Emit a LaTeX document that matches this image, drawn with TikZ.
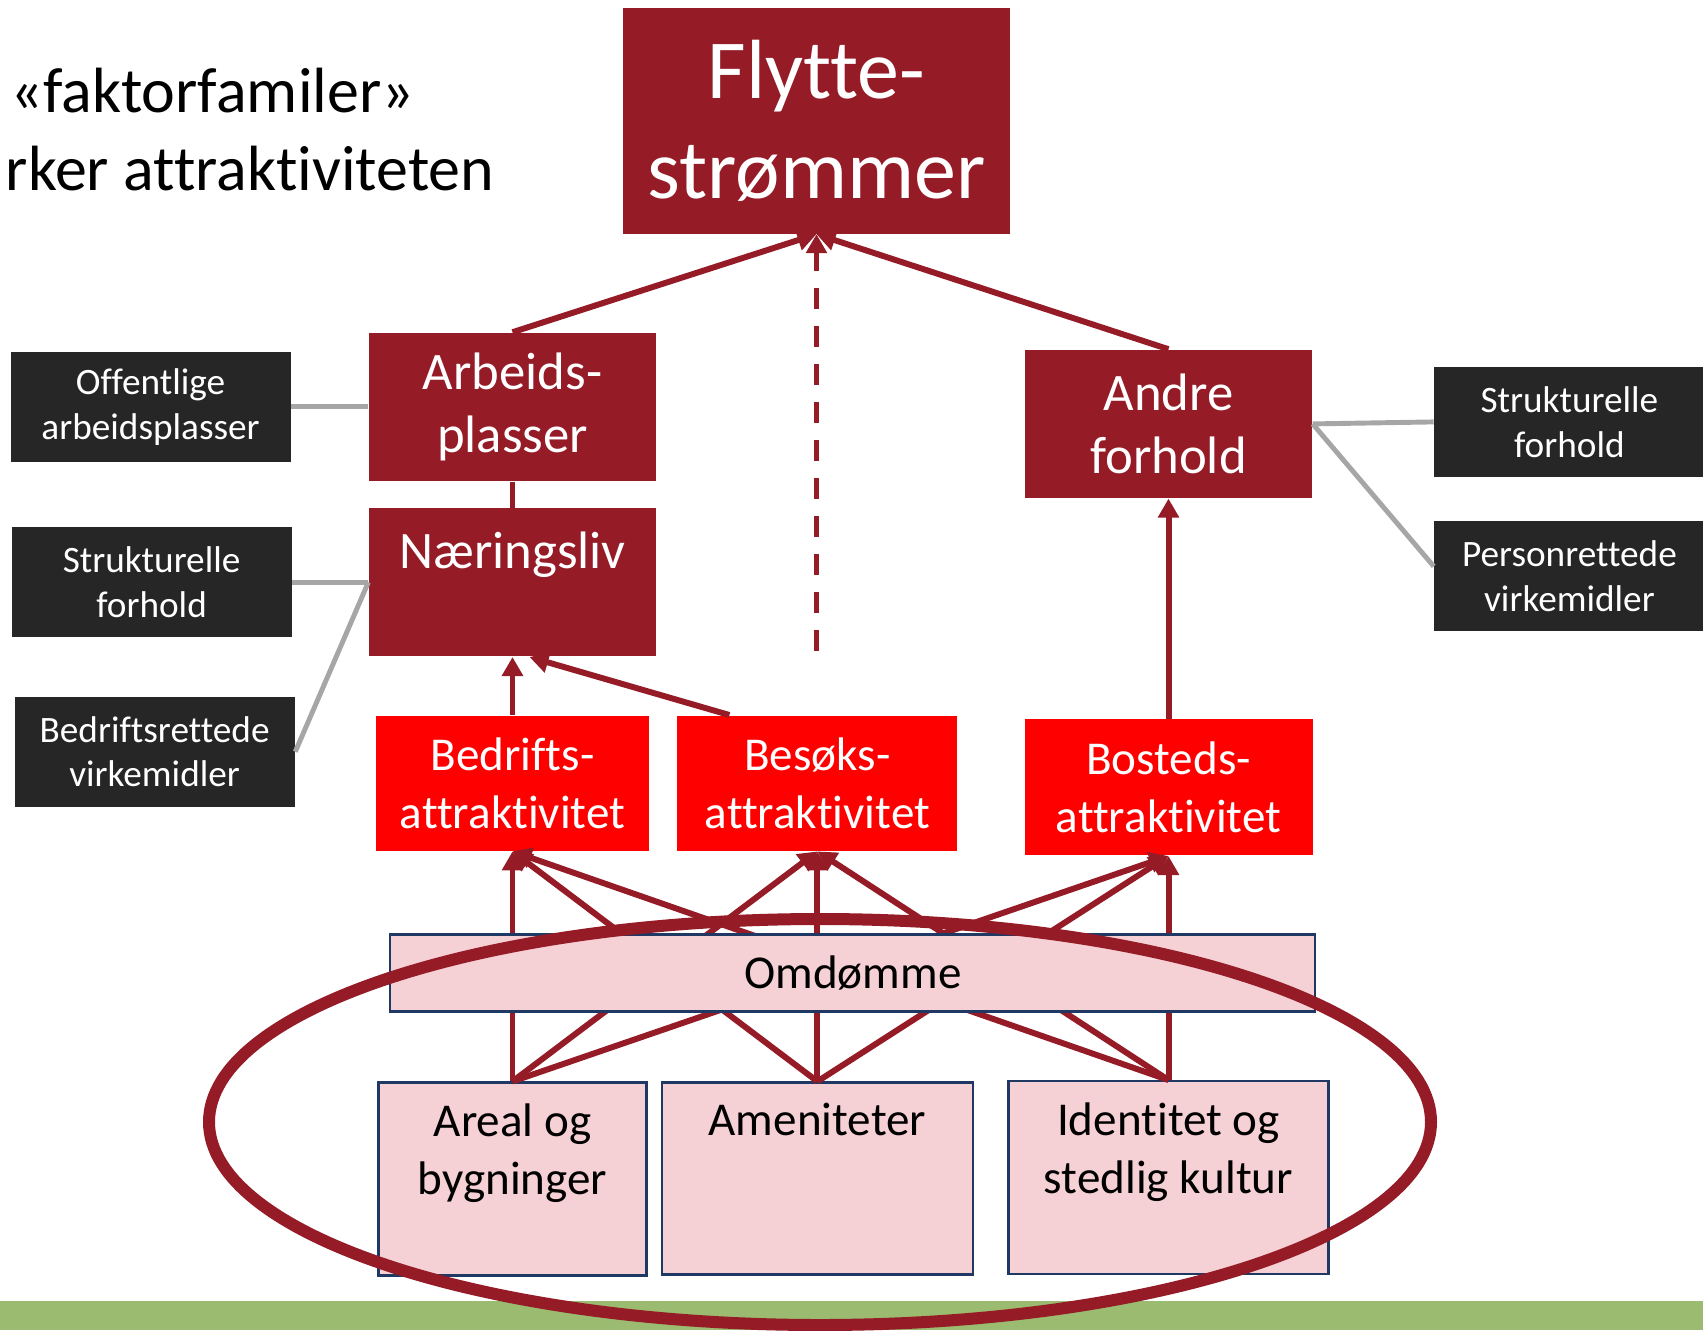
\documentclass[tikz,border=0pt]{standalone}
\usepackage{fontspec}
\setmainfont{Carlito}[Ligatures=NoCommon]
\usetikzlibrary{positioning,arrows.meta}

\definecolor{mork}{HTML}{951B26}
\definecolor{rod}{HTML}{FF0000}
\definecolor{rosa}{HTML}{F5D0D5}
\definecolor{marine}{HTML}{1F3864}
\definecolor{kull}{HTML}{262626}
\definecolor{graalinje}{HTML}{A6A6A6}
\definecolor{gronn}{HTML}{9BBB70}

\begin{document}
\begin{tikzpicture}[
    node distance=1cm,
    flyt/.style={
        rectangle,
        fill=mork,
        text=white,
        minimum width=3.87cm,
        minimum height=2.26cm,
        inner sep=0pt,
        align=center,
        font=\fontsize{23.9pt}{28.5pt}\selectfont
    },
    hoved/.style={
        rectangle,
        fill=mork,
        text=white,
        minimum width=2.87cm,
        minimum height=1.48cm,
        inner sep=0pt,
        align=center,
        font=\fontsize{15pt}{17.9pt}\selectfont
    },
    attr/.style={
        rectangle,
        fill=rod,
        text=white,
        minimum width=2.8cm,
        minimum height=1.35cm,
        inner sep=0pt,
        align=center,
        font=\fontsize{13.4pt}{16.7pt}\selectfont
    },
    faktor/.style={
        rectangle,
        draw=marine,
        line width=0.6pt,
        fill=rosa,
        inner sep=0pt,
        align=center,
        font=\fontsize{13.4pt}{16.4pt}\selectfont
    },
    svart/.style={
        rectangle,
        fill=kull,
        text=white,
        minimum width=2.8cm,
        minimum height=1.1cm,
        inner sep=0pt,
        align=center,
        font=\fontsize{10.6pt}{12.7pt}\selectfont
    },
    tittel/.style={anchor=base west, inner sep=0pt, font=\fontsize{18.2pt}{22.2pt}\selectfont},
    pil/.style={-{Triangle[length=5.4pt,width=5.8pt]}, draw=mork, line width=1.7pt},
    linje/.style={draw=mork, line width=1.4pt},
    graa/.style={draw=graalinje, line width=1.4pt},
    ring/.style={draw=mork, line width=0.12cm}
]
    \useasboundingbox (0,0) rectangle (17.03,-13.30);

    % Tittel
    \node[tittel] (tittela) at (0.10,-1.12) {«faktorfamiler»};
    \node[tittel] (tittelb) at (0.05,-1.90) {rker attraktiviteten};

    % Flyttestrømmer
    \node[flyt] (flow) at (8.165,-1.205) {Flytte-\\strømmer};
    \coordinate[below=4.17cm of flow] (midt);

    % Arbeidsplasser og næringsliv
    \node[hoved, below=0.98cm of flow, xshift=-3.04cm] (arb) {Arbeids-\\plasser};
    \node[hoved, below=0.26cm of arb, text height=0.60cm, text depth=0.88cm] (naer) {Næringsliv};

    % Andre forhold
    \node[hoved, below=1.15cm of flow, xshift=3.52cm] (andre) {Andre\\forhold};

    % Attraktivitet
    \node[attr, below=0.58cm of naer, minimum width=2.73cm] (bedr) {Bedrifts-\\attraktivitet};
    \node[attr, right=0.27cm of bedr] (besok) {Besøks-\\attraktivitet};
    \node[attr, below=2.20cm of andre, minimum width=2.88cm, minimum height=1.36cm] (bost) {Bosteds-\\attraktivitet};

    % Faktorer nederst
    \node[faktor, below=2.30cm of bedr, minimum width=2.68cm, minimum height=1.93cm,
        text height=1.12cm, text depth=0.81cm] (areal) {Areal og\\bygninger};
    \node[faktor, below=2.30cm of besok, minimum width=3.11cm, minimum height=1.92cm,
        text height=0.53cm, text depth=1.39cm] (amen) {Ameniteter};
    \node[faktor, below=2.24cm of bost, minimum width=3.20cm, minimum height=1.93cm,
        text height=1.12cm, text depth=0.81cm] (ident) {Identitet og\\stedlig kultur};

    % Virkemidler
    \node[svart, left=0.77cm of arb] (off) {Offentlige\\arbeidsplasser};
    \node[svart, left=0.76cm of naer] (strL) {Strukturelle\\forhold};
    \node[svart, below=0.58cm of strL, xshift=0.03cm] (bedrV) {Bedriftsrettede\\virkemidler};
    \node[svart, right=1.21cm of andre, minimum width=2.7cm, yshift=0.02cm] (strR) {Strukturelle\\forhold};
    \node[svart, below=0.43cm of strR, minimum width=2.7cm] (pers) {Personrettede\\virkemidler};

    % Piler
    \draw[pil] (arb.north) -- (flow.south);
    \draw[pil] (andre.north) -- (flow.south);
    \draw[pil, dash pattern=on 0.21cm off 0.17cm] (midt) -- (flow.south);
    \draw[linje] (arb) -- (naer);
    \draw[pil] (bedr) -- (naer);
    \draw[pil] ([xshift=-0.88cm]besok.north) -- ([xshift=0.17cm]naer.south);
    \draw[pil] (bost) -- (andre);

    \draw[pil] (areal.north) -- (bedr.south);
    \draw[pil] (areal.north) -- (besok.south);
    \draw[pil] (areal.north) -- (bost.south);
    \draw[pil] (amen.north) -- (bedr.south);
    \draw[pil] (amen.north) -- (besok.south);
    \draw[pil] (amen.north) -- (bost.south);
    \draw[pil] (ident.north) -- (bedr.south);
    \draw[pil] (ident.north) -- (besok.south);
    \draw[pil] (ident.north) -- (bost.south);

    % Grå linjer
    \draw[graa] (off) -- (arb);
    \draw[graa] (strL.east) -- (naer.west);
    \draw[graa] (bedrV.east) -- (naer.west);
    \draw[graa] (strR.west) -- (andre.east);
    \draw[graa] ([yshift=0.1cm]pers.west) -- (andre.east);

    % Omdømme over pilene
    \node[faktor, below=0.82cm of besok, xshift=0.355cm, minimum width=9.25cm, minimum height=0.77cm] (omd) {Omdømme};

    % Grønn stripe og ring
    \fill[gronn] (0,-13.01) rectangle (17.03,-13.30);
    \draw[ring] (8.20,-11.22) ellipse [x radius=6.11cm, y radius=2.03cm];
\end{tikzpicture}
\end{document}
